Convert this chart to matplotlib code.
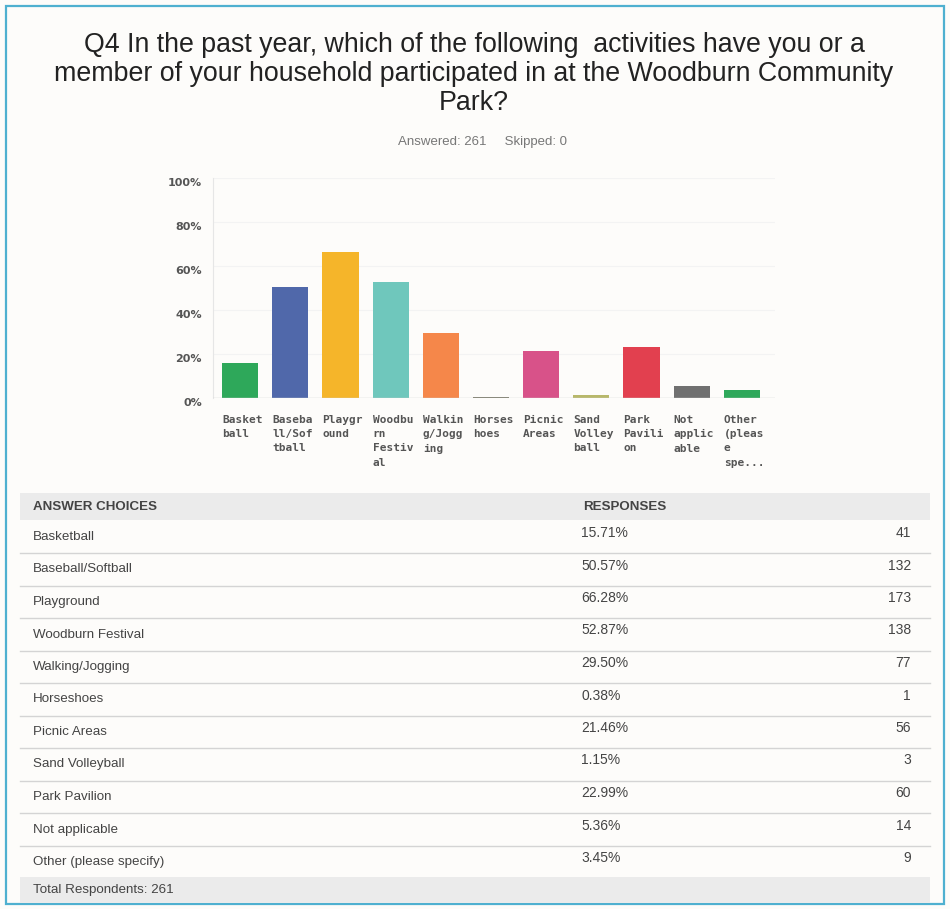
import matplotlib
matplotlib.use("Agg")
import matplotlib.pyplot as plt
from matplotlib.patches import Rectangle
from matplotlib.lines import Line2D
from matplotlib.transforms import ScaledTranslation

categories = ["Basketball", "Baseball/Softball", "Playground", "Woodburn Festival",
              "Walking/Jogging", "Horseshoes", "Picnic Areas", "Sand Volleyball",
              "Park Pavilion", "Not applicable", "Other (please specify)"]
axis_labels = ["Basket\nball", "Baseba\nll/Sof\ntball", "Playgr\nound", "Woodbu\nrn\nFestiv\nal",
               "Walkin\ng/Jogg\ning", "Horses\nhoes", "Picnic\nAreas", "Sand\nVolley\nball",
               "Park\nPavili\non", "Not\napplic\nable", "Other\n(pleas\ne\nspe..."]
percents = [15.71, 50.57, 66.28, 52.87, 29.50, 0.38, 21.46, 1.15, 22.99, 5.36, 3.45]
counts = [41, 132, 173, 138, 77, 1, 56, 3, 60, 14, 9]
total = 261
skipped = 0
yticks = [0, 20, 40, 60, 80, 100]
colors = ["#2ea85a", "#5068aa", "#f5b52a", "#6fc7bc", "#f5874a", "#7a7a6a",
          "#d85289", "#b8b86a", "#e2404f", "#707070", "#2ea85a"]

W, H = 950, 909
fig = plt.figure(figsize=(W / 100, H / 100), dpi=100)
fig.patch.set_facecolor("#fdfcfa")

def fx(x):
    return x / W

def fy(y):
    return 1 - y / H

SANS = ["Liberation Sans", "DejaVu Sans"]

# border
fig.add_artist(Rectangle((fx(6), fy(904)), fx(938), (898) / H, transform=fig.transFigure,
                         fill=False, edgecolor="#4fb0d0", linewidth=1.6))

# title
title_lines = ["Q4 In the past year, which of the following  activities have you or a",
               "member of your household participated in at the Woodburn Community",
               "Park?"]
for i, t in enumerate(title_lines):
    fig.text(fx(474), fy(45 + 29 * i), t, ha="center", va="center", fontsize=19.3,
             family=SANS, color="#222222")
fig.text(fx(482), fy(142), f"Answered: {total}     Skipped: {skipped}", ha="center", va="center",
         fontsize=9.5, family=SANS, color="#777777")

# bar chart
ax_l, ax_r = 213, 775
y0, y100 = 398, 178
ax = fig.add_axes([fx(ax_l), fy(y0), (ax_r - ax_l) / W, (y0 - y100) / H])
ax.set_facecolor("none")
xs = list(range(len(categories)))
ax.bar(xs, percents, width=0.72, color=colors, zorder=3)
ax.set_xlim(-0.54, 10.66)
ax.set_ylim(0, 100)
for t in yticks[1:]:
    ax.axhline(t, color="#f3f3f3", linewidth=0.8, zorder=1)
ax.axhline(0, color="#cfcfcf", linewidth=1.0, zorder=4)
for s in ["top", "right", "bottom"]:
    ax.spines[s].set_visible(False)
ax.spines["left"].set_color("#e6e6e6")
ax.set_yticks(yticks)
ax.set_yticklabels([f"{t}%" for t in yticks], fontsize=8, fontweight="bold",
                   color="#555555", family=["DejaVu Sans"])
ax.tick_params(axis="y", length=0, pad=8)
yoff = ScaledTranslation(0, -4 / 100, fig.dpi_scale_trans)
for lbl in ax.get_yticklabels():
    lbl.set_transform(lbl.get_transform() + yoff)
ax.set_xticks(xs)
ax.set_xticklabels(axis_labels, fontsize=8, fontweight="bold", color="#555555",
                   family=["DejaVu Sans Mono"], ha="left", va="top", linespacing=1.55)
ax.tick_params(axis="x", length=0, pad=12)
off = ScaledTranslation(-18 / 100, 0, fig.dpi_scale_trans)
for lbl in ax.get_xticklabels():
    lbl.set_transform(lbl.get_transform() + off)

# table
tl, tr = 20, 930
fig.add_artist(Rectangle((fx(tl), fy(520)), (tr - tl) / W, 27 / H, transform=fig.transFigure,
                         facecolor="#ebebeb", edgecolor="none"))
fig.text(fx(33), fy(507), "ANSWER CHOICES", ha="left", va="center", fontsize=9.6,
         fontweight="bold", family=SANS, color="#444444")
fig.text(fx(583), fy(507), "RESPONSES", ha="left", va="center", fontsize=9.6,
         fontweight="bold", family=SANS, color="#444444")
pitch = 32.5
for k, (c, p, n) in enumerate(zip(categories, percents, counts)):
    yc = 537 + pitch * k
    fig.text(fx(33), fy(yc), c, ha="left", va="center", fontsize=9.6, family=SANS, color="#444444")
    fig.text(fx(581), fy(yc - 4), f"{p:.2f}%", ha="left", va="center", fontsize=10,
             family=SANS, color="#444444")
    fig.text(fx(911), fy(yc - 4), f"{n}", ha="right", va="center", fontsize=10,
             family=SANS, color="#444444")
    if k < len(categories) - 1:
        ys = yc + 16
        fig.add_artist(Line2D([fx(tl), fx(tr)], [fy(ys), fy(ys)], transform=fig.transFigure,
                              color="#d4d4d4", linewidth=1.0))
fig.add_artist(Rectangle((fx(tl), fy(903)), (tr - tl) / W, 26 / H, transform=fig.transFigure,
                         facecolor="#ebebeb", edgecolor="none"))
fig.text(fx(33), fy(890), f"Total Respondents: {total}", ha="left", va="center", fontsize=9.6,
         family=SANS, color="#444444")

fig.savefig("out.png", dpi=100, facecolor=fig.get_facecolor())
